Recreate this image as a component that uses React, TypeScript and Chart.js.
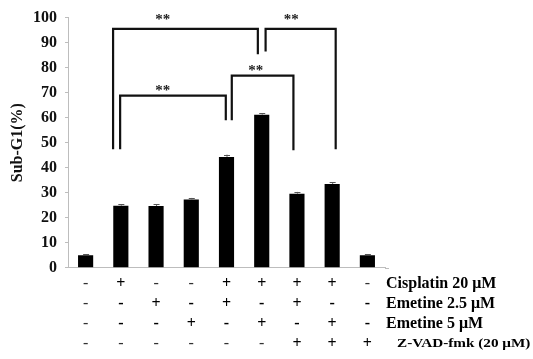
import React, { useEffect, useRef } from "react";
import { Chart, registerables } from "chart.js";

Chart.register(...registerables);

// ---- data ----
const groups = ["G1", "G2", "G3", "G4", "G5", "G6", "G7", "G8", "G9"];
const subG1 = [5.0, 24.8, 24.7, 27.3, 44.3, 61.2, 29.6, 33.5, 5.0];
const subG1Err = [0.4, 0.5, 0.6, 0.6, 0.9, 0.6, 0.7, 0.6, 0.4];
const yMin = 0;
const yMax = 100;
const yStep = 10;
const yTitle = "Sub-G1(%)";

const rowLabels = ["Cisplatin 20 μM", "Emetine 2.5 μM", "Emetine 5 μM", "Z-VAD-fmk (20 μM)"];
const cisplatin = ["-", "+", "-", "-", "+", "+", "+", "+", "-"];
const emetine25 = ["-", "-", "+", "-", "+", "-", "+", "-", "-"];
const emetine5 = ["-", "-", "-", "+", "-", "+", "-", "+", "-"];
const zvad = ["-", "-", "-", "-", "-", "-", "+", "+", "+"];
const treatmentRows = [cisplatin, emetine25, emetine5, zvad];

// significance brackets (x in category index units, y in Sub-G1 %)
const bracketFrom = [0.78, 0.98, 4.15, 5.11];
const bracketTo = [4.89, 3.98, 5.9, 7.1];
const bracketTop = [95.5, 68.8, 76.8, 95.5];
const bracketFromEnd = [47.4, 47.4, 59, 86.4];
const bracketToEnd = [85.3, 59, 47, 47.4];
const starX = [2.19, 2.19, 4.83, 5.84];
const starY = [100.3, 71.7, 79.8, 100.2];
const starText = ["**", "**", "**", "**"];

const SERIF = "'Liberation Serif', 'Times New Roman', serif";

export default function App() {
  const ref = useRef<HTMLCanvasElement>(null);

  useEffect(() => {
    const canvas = ref.current;
    if (!canvas) return;

    const overlay = {
      id: "overlay",
      afterDatasetsDraw(chart: any) {
        const ctx = chart.ctx as CanvasRenderingContext2D;
        const xs = chart.scales.x;
        const ys = chart.scales.y;
        const area = chart.chartArea;
        ctx.save();

        // axis line continues slightly past the last category
        ctx.strokeStyle = "#bdbdbd";
        ctx.lineWidth = 1;
        ctx.beginPath();
        ctx.moveTo(area.right, Math.round(area.bottom) + 0.5);
        ctx.lineTo(area.right + 4, Math.round(area.bottom) + 0.5);
        ctx.stroke();

        // error bars
        ctx.strokeStyle = "#555";
        ctx.lineWidth = 1;
        subG1.forEach((v, i) => {
          const x = xs.getPixelForValue(i);
          const y0 = ys.getPixelForValue(v);
          const y1 = ys.getPixelForValue(v + subG1Err[i]);
          ctx.beginPath();
          ctx.moveTo(x + 0.5, y0);
          ctx.lineTo(x + 0.5, y1);
          ctx.moveTo(x - 2.5, Math.round(y1) + 0.5);
          ctx.lineTo(x + 3.5, Math.round(y1) + 0.5);
          ctx.stroke();
        });

        // brackets
        ctx.strokeStyle = "#111";
        ctx.lineWidth = 2.2;
        ctx.lineJoin = "miter";
        bracketFrom.forEach((f, i) => {
          const xa = xs.getPixelForValue(f);
          const xb = xs.getPixelForValue(bracketTo[i]);
          const yt = ys.getPixelForValue(bracketTop[i]);
          const ya = ys.getPixelForValue(bracketFromEnd[i]);
          const yb = ys.getPixelForValue(bracketToEnd[i]);
          ctx.beginPath();
          ctx.moveTo(xa, ya);
          ctx.lineTo(xa, yt);
          ctx.lineTo(xb, yt);
          ctx.lineTo(xb, yb);
          ctx.stroke();
        });

        // stars
        ctx.fillStyle = "#222";
        ctx.font = `bold 15px ${SERIF}`;
        ctx.textAlign = "center";
        ctx.textBaseline = "alphabetic";
        starText.forEach((t, i) => {
          const m = ctx.measureText(t);
          const yc = ys.getPixelForValue(starY[i]);
          const base = yc + (m.actualBoundingBoxAscent - m.actualBoundingBoxDescent) / 2;
          ctx.fillText(t, xs.getPixelForValue(starX[i]), base);
        });

        // treatment table
        const rowY = (r: number) => area.bottom + 16 + r * 20;
        ctx.textAlign = "center";
        ctx.textBaseline = "middle";
        treatmentRows.forEach((row, r) => {
          row.forEach((s, c) => {
            const light = s === "-" && (c === 0 || r === 0 || r === 3);
            ctx.font = `${light ? "normal" : "bold"} 16px ${SERIF}`;
            ctx.fillStyle = light ? "#333" : "#000";
            ctx.fillText(s, xs.getPixelForValue(c), rowY(r));
          });
        });

        // row labels
        ctx.fillStyle = "#000";
        ctx.textAlign = "left";
        rowLabels.forEach((label, r) => {
          if (r < 3) {
            ctx.font = `bold 16px ${SERIF}`;
            ctx.fillText(label, area.right + 1, rowY(r));
          } else {
            ctx.save();
            ctx.font = `bold 13px ${SERIF}`;
            ctx.translate(area.right + 12, rowY(r));
            ctx.scale(1.17, 1);
            ctx.fillText(label, 0, 0);
            ctx.restore();
          }
        });

        ctx.restore();
      },
    };

    const chart = new Chart(canvas, {
      type: "bar",
      data: {
        labels: groups,
        datasets: [
          {
            data: subG1,
            backgroundColor: "#000",
            borderWidth: 0,
            barPercentage: 0.43,
            categoryPercentage: 1,
          },
        ],
      },
      options: {
        responsive: false,
        animation: false,
        devicePixelRatio: 1,
        layout: { padding: { left: 0, right: 148, top: 16.5, bottom: 83.3 } },
        plugins: { legend: { display: false }, tooltip: { enabled: false } },
        scales: {
          x: {
            grid: { display: false },
            ticks: { display: false },
            border: { color: "#bdbdbd", width: 1 },
          },
          y: {
            min: yMin,
            max: yMax,
            ticks: {
              stepSize: yStep,
              color: "#111",
              padding: 8,
              font: { family: SERIF, size: 16, weight: "bold" },
            },
            grid: { drawOnChartArea: false, tickLength: 3, color: "#bdbdbd" },
            border: { color: "#bdbdbd", width: 1 },
            title: {
              display: true,
              text: yTitle,
              color: "#111",
              font: { family: SERIF, size: 16, weight: "bold" },
              padding: { top: 8, bottom: 0 },
            },
            afterFit: (s: any) => {
              s.width = 68;
            },
          },
        },
      },
      plugins: [overlay],
    } as any);

    return () => chart.destroy();
  }, []);

  return (
    <div style={{ position: "fixed", left: 0, top: 0, width: 533, height: 359, background: "#fff" }}>
      <canvas ref={ref} width={533} height={359} style={{ display: "block" }} />
    </div>
  );
}
